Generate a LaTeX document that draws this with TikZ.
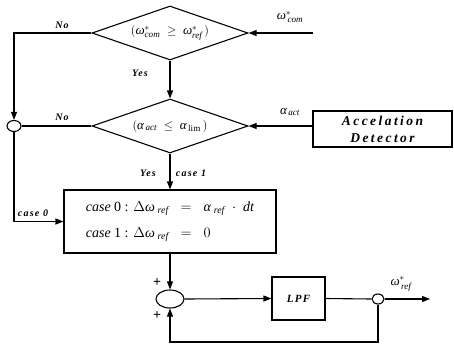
\documentclass[tikz,border=0pt]{standalone}
\usepackage{amsmath}
\usepackage{fontspec}
\setmainfont{Liberation Serif}
\newfontfamily\lblfont[LetterSpace=12]{Liberation Serif}
\newfontfamily\detfont[LetterSpace=18]{Liberation Serif}
\usetikzlibrary{shapes.geometric,arrows.meta}

\newcommand{\vw}{\textit{ω}}
\newcommand{\va}{\textit{α}}
\newcommand{\subtx}[1]{\textit{#1}}

\begin{document}
\begin{tikzpicture}[x=1pt,y=-1pt,line width=1.1pt,
  >={Triangle[length=8pt,width=6pt]},
  decision/.style={diamond,draw,inner sep=0pt,aspect=2.9,
    minimum width=156pt,minimum height=54pt,font=\fontsize{13}{15}\selectfont},
  block/.style={rectangle,draw,inner sep=2pt},
  junc/.style={ellipse,draw,inner sep=0pt},
  lbl/.style={inner sep=0pt,font=\lblfont\bfseries\itshape\fontsize{10}{11}\selectfont},
  sig/.style={inner sep=0pt,font=\fontsize{13}{15}\selectfont}]
\useasboundingbox (0,0) rectangle (454,343);

% decisions
\node[decision] (d1) at (170,33) {$(\vw^{*}_{\subtx{com}} \;\ge\; \vw^{*}_{\subtx{ref}}\,)$};
\node[decision] (d2) at (170,126) {$(\va_{\,\subtx{act}} \;\le\; \va_{\,\textup{lim}}\,)$};

% blocks
\node[block,minimum width=139pt,minimum height=36pt,align=center,
  font=\detfont\bfseries\itshape\fontsize{13.5}{17}\selectfont] (det) at (382.5,129) {Accelation\\Detector};
\node[block,minimum width=212pt,minimum height=63pt,align=left,
  font=\fontsize{14}{16}\selectfont] (box) at (170,221.5)
  {\textit{case} 0 : $\Delta\vw_{\;\subtx{ref}} \;\;=\;\; \va_{\;\subtx{ref}}\;\cdot\; \subtx{dt}$\\[10pt]
   \textit{case} 1 : $\Delta\vw_{\;\subtx{ref}} \;\;=\;\; 0$};
\node[block,minimum width=53pt,minimum height=43pt,
  font=\lblfont\bfseries\itshape\fontsize{11}{12}\selectfont] (lpf) at (298.5,298.5) {LPF};

% junctions
\node[junc,minimum width=14pt,minimum height=11pt] (c1) at (14,126) {};
\node[junc,minimum width=28pt,minimum height=18pt] (sum) at (170,299) {};
\node[junc,minimum width=12pt,minimum height=10pt] (c2) at (378,299) {};

% free ends
\coordinate (in1) at (313,33);
\coordinate (out) at (430,299);
\coordinate (fb) at (0,342);

% connectors
\draw[->] (in1) -- (d1.east);
\draw[->] (d1.west) -| (c1.north);
\draw[->] (d1.south) -- (d2.north);
\draw[->] (det.west |- d2.east) -- (d2.east);
\draw (d2.west) -- (c1.east);
\draw[->] (c1.south) |- (box.west);
\draw[->] (d2.south) -- (box.north);
\draw[->] (box.south) -- (sum.north);
\draw[->] (sum.east) -- (lpf.west);
\draw (lpf.east) -- (c2.west);
\draw[->] (c2.east) -- (out);
\draw[->] (c2.south) -- (c2.south |- fb) -| (sum.south);

% labels
\node[lbl] (tno1) at (62,25) {No};
\node[lbl] (tyes1) at (140,73) {Yes};
\node[lbl] (tno2) at (62,117) {No};
\node[lbl] (tyes2) at (148,173) {Yes};
\node[lbl] (tc1) at (191,173) {case 1};
\node[lbl] (tc0) at (33,213) {case 0};
\node[lbl,font=\bfseries\fontsize{14}{14}\selectfont] (tp1) at (157,283) {+};
\node[lbl,font=\bfseries\fontsize{14}{14}\selectfont] (tp2) at (157,316) {+};
\node[sig] (tin) at (290,17) {$\vw^{*}_{\,\subtx{com}}$};
\node[sig] (tact) at (290,112) {$\va_{\,\subtx{act}}$};
\node[sig] (tout) at (401,284) {$\vw^{*}_{\,\subtx{ref}}$};
\end{tikzpicture}
\end{document}
